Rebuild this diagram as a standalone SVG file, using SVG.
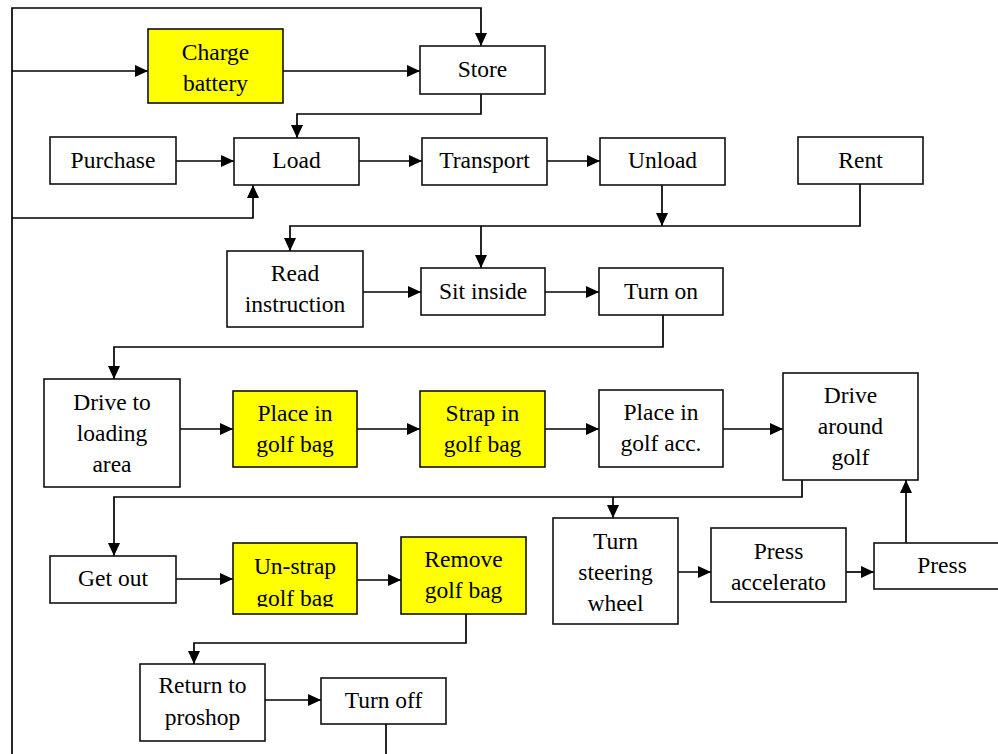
<svg xmlns="http://www.w3.org/2000/svg" width="998" height="754" viewBox="0 0 998 754">
  <style>
    .box { fill: #ffffff; stroke: #111; stroke-width: 1.6; }
    .hl { fill: #ffff00; }
    .lbl { font-family: "Liberation Serif", "Times New Roman", serif; font-size: 23.5px; fill: #000; text-anchor: middle; }
    .wire { fill: none; stroke: #000; stroke-width: 1.7; }
    .arr { marker-end: url(#head); }
  </style>
  <defs>
    <marker id="head" viewBox="0 0 13 12" refX="13" refY="6" markerWidth="13" markerHeight="12" markerUnits="userSpaceOnUse" orient="auto">
      <path d="M0,0 L13,6 L0,12 z" fill="#000"/>
    </marker>
    <clipPath id="unstrapClip">
      <rect x="233" y="543" width="124" height="64"/>
    </clipPath>
  </defs>
  <rect width="998" height="754" fill="#ffffff"/>

  <g id="connectors">
    <path class="wire arr" d="M12,754 V8 H481 V46"/>
    <path class="wire arr" d="M12,71 H148"/>
    <path class="wire arr" d="M283,71 H420"/>
    <path class="wire arr" d="M481,94 V114 H297 V138"/>
    <path class="wire arr" d="M176,161 H234"/>
    <path class="wire arr" d="M12,218 H253 V185"/>
    <path class="wire arr" d="M359,161 H422"/>
    <path class="wire arr" d="M547,161 H600"/>
    <path class="wire arr" d="M662,185 V226"/>
    <path class="wire arr" d="M860,184 V226 H290 V251"/>
    <path class="wire arr" d="M481,226 V268"/>
    <path class="wire arr" d="M363,292 H421"/>
    <path class="wire arr" d="M545,292 H599"/>
    <path class="wire arr" d="M663,315 V347 H114 V379"/>
    <path class="wire arr" d="M180,429 H233"/>
    <path class="wire arr" d="M357,429 H420"/>
    <path class="wire arr" d="M545,429 H599"/>
    <path class="wire arr" d="M723,429 H783"/>
    <path class="wire arr" d="M802,480 V497 H114 V556"/>
    <path class="wire arr" d="M613,497 V518"/>
    <path class="wire arr" d="M176,579 H233"/>
    <path class="wire arr" d="M357,580 H401"/>
    <path class="wire arr" d="M466,614 V643 H194 V664"/>
    <path class="wire arr" d="M265,700 H321"/>
    <path class="wire" d="M386,724 V754"/>
    <path class="wire arr" d="M678,572 H711"/>
    <path class="wire arr" d="M846,572 H874"/>
    <path class="wire arr" d="M906,543 V480"/>
  </g>

  <g id="charge-battery">
    <rect class="box hl" x="148" y="29" width="135" height="74"/>
    <text class="lbl" x="215.5" y="60">Charge</text>
    <text class="lbl" x="215.5" y="91">battery</text>
  </g>
  <g id="store">
    <rect class="box" x="420" y="46" width="125" height="48"/>
    <text class="lbl" x="482.5" y="77">Store</text>
  </g>
  <g id="purchase">
    <rect class="box" x="50" y="137" width="126" height="47"/>
    <text class="lbl" x="113" y="168">Purchase</text>
  </g>
  <g id="load">
    <rect class="box" x="234" y="138" width="125" height="47"/>
    <text class="lbl" x="296.5" y="168">Load</text>
  </g>
  <g id="transport">
    <rect class="box" x="422" y="138" width="125" height="47"/>
    <text class="lbl" x="484.5" y="168">Transport</text>
  </g>
  <g id="unload">
    <rect class="box" x="600" y="138" width="125" height="47"/>
    <text class="lbl" x="662.5" y="168">Unload</text>
  </g>
  <g id="rent">
    <rect class="box" x="798" y="137" width="125" height="47"/>
    <text class="lbl" x="860.5" y="168">Rent</text>
  </g>
  <g id="read-instruction">
    <rect class="box" x="227" y="251" width="136" height="76"/>
    <text class="lbl" x="295" y="281">Read</text>
    <text class="lbl" x="295" y="312">instruction</text>
  </g>
  <g id="sit-inside">
    <rect class="box" x="421" y="268" width="124" height="47"/>
    <text class="lbl" x="483" y="299">Sit inside</text>
  </g>
  <g id="turn-on">
    <rect class="box" x="599" y="268" width="124" height="47"/>
    <text class="lbl" x="661" y="299">Turn on</text>
  </g>
  <g id="drive-to-loading-area">
    <rect class="box" x="44" y="379" width="136" height="108"/>
    <text class="lbl" x="112" y="410">Drive to</text>
    <text class="lbl" x="112" y="441">loading</text>
    <text class="lbl" x="112" y="472">area</text>
  </g>
  <g id="place-in-golf-bag">
    <rect class="box hl" x="233" y="391" width="124" height="76"/>
    <text class="lbl" x="295" y="421">Place in</text>
    <text class="lbl" x="295" y="452">golf bag</text>
  </g>
  <g id="strap-in-golf-bag">
    <rect class="box hl" x="420" y="391" width="125" height="76"/>
    <text class="lbl" x="482.5" y="421">Strap in</text>
    <text class="lbl" x="482.5" y="452">golf bag</text>
  </g>
  <g id="place-in-golf-acc">
    <rect class="box" x="599" y="390" width="124" height="77"/>
    <text class="lbl" x="661" y="420">Place in</text>
    <text class="lbl" x="661" y="451">golf acc.</text>
  </g>
  <g id="drive-around-golf">
    <rect class="box" x="783" y="373" width="135" height="107"/>
    <text class="lbl" x="850.5" y="403">Drive</text>
    <text class="lbl" x="850.5" y="434">around</text>
    <text class="lbl" x="850.5" y="465">golf</text>
  </g>
  <g id="get-out">
    <rect class="box" x="50" y="556" width="126" height="47"/>
    <text class="lbl" x="113" y="586">Get out</text>
  </g>
  <g id="un-strap-golf-bag">
    <rect class="box hl" x="233" y="543" width="124" height="71"/>
    <g clip-path="url(#unstrapClip)">
      <text class="lbl" x="295" y="574">Un-strap</text>
      <text class="lbl" x="295" y="606">golf bag</text>
    </g>
  </g>
  <g id="remove-golf-bag">
    <rect class="box hl" x="401" y="537" width="125" height="77"/>
    <text class="lbl" x="463.5" y="567">Remove</text>
    <text class="lbl" x="463.5" y="598">golf bag</text>
  </g>
  <g id="turn-steering-wheel">
    <rect class="box" x="553" y="518" width="125" height="106"/>
    <text class="lbl" x="615.5" y="549">Turn</text>
    <text class="lbl" x="615.5" y="580">steering</text>
    <text class="lbl" x="615.5" y="611">wheel</text>
  </g>
  <g id="press-accelerator">
    <rect class="box" x="711" y="528" width="135" height="74"/>
    <text class="lbl" x="778.5" y="559">Press</text>
    <text class="lbl" x="778.5" y="590">accelerato</text>
  </g>
  <g id="press">
    <rect class="box" x="874" y="543" width="140" height="46"/>
    <text class="lbl" x="942" y="573">Press</text>
  </g>
  <g id="return-to-proshop">
    <rect class="box" x="140" y="664" width="125" height="77"/>
    <text class="lbl" x="202.5" y="693">Return to</text>
    <text class="lbl" x="202.5" y="725">proshop</text>
  </g>
  <g id="turn-off">
    <rect class="box" x="321" y="678" width="125" height="46"/>
    <text class="lbl" x="383.5" y="708">Turn off</text>
  </g>
</svg>
